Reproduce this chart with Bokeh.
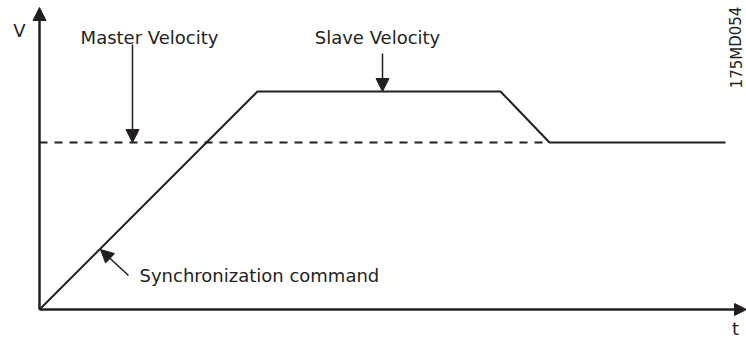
from bokeh.plotting import figure
from bokeh.models import Range1d, Arrow, NormalHead, ColumnDataSource
from bokeh.core.properties import value
from bokeh.embed import file_html
from bokeh.resources import INLINE

# ---- data (time / velocity in diagram units) ----
slave_t = [0, 218, 461, 510, 686]
slave_v = [0, 218, 218, 167, 167]
master_t = [0, 510]
master_v = [167, 167]

# axis extents
t_axis_end = 707
v_axis_end = 302

# annotation arrows (start -> end)
ann_t0 = [93, 343, 89]
ann_v0 = [265, 256, 34]
ann_t1 = [93, 343, 61]
ann_v1 = [167, 218, 60]

# labels
label_text = ["Master Velocity", "Slave Velocity"]
label_t = [110, 338]
label_v = [272, 272]
sync_label = "Synchronization command"
sync_t, sync_v = 100, 34
axis_v_label = "V"
axis_t_label = "t"
code_label = "175MD054"

INK = "#231f20"
FONT = value("DejaVu Sans")

p = figure(width=746, height=338, output_backend="svg", toolbar_location=None,
           x_range=Range1d(-39, 707), y_range=Range1d(-29, 309),
           x_axis_location=None, y_axis_location=None, min_border=0)
p.grid.visible = False
p.outline_line_color = None
p.background_fill_color = "white"
p.border_fill_color = "white"

# master velocity (dashed)
p.line(master_t, master_v, line_color=INK, line_width=2, line_dash="8 7")
# slave velocity
p.line(slave_t, slave_v, line_color=INK, line_width=2)

# axes with arrowheads
p.add_layout(Arrow(end=NormalHead(size=13, fill_color=INK, line_color=INK),
                   x_start=0, y_start=0, x_end=0, y_end=v_axis_end,
                   line_color=INK, line_width=2.5))
p.add_layout(Arrow(end=NormalHead(size=12, fill_color=INK, line_color=INK),
                   x_start=0, y_start=0, x_end=t_axis_end, y_end=0,
                   line_color=INK, line_width=2.5))

# annotation arrows
ann_src = ColumnDataSource(dict(x0=ann_t0, y0=ann_v0, x1=ann_t1, y1=ann_v1))
p.add_layout(Arrow(end=NormalHead(size=13, fill_color=INK, line_color=INK),
                   x_start="x0", y_start="y0", x_end="x1", y_end="y1",
                   source=ann_src, line_color=INK, line_width=1.5))

# labels
p.text(x=label_t, y=label_v, text=label_text, text_font=FONT, text_font_size="18px",
       text_color=INK, text_align="center", text_baseline="middle")
p.text(x=[sync_t], y=[sync_v], text=[sync_label], text_font=FONT, text_font_size="18px",
       text_color=INK, text_align="left", text_baseline="middle")
p.text(x=[-20], y=[279], text=[axis_v_label], text_font=FONT, text_font_size="18px",
       text_color=INK, text_align="center", text_baseline="middle")
p.text(x=[696], y=[-19], text=[axis_t_label], text_font=FONT, text_font_size="18px",
       text_color=INK, text_align="center", text_baseline="middle")
p.text(x=[697], y=[262], text=[code_label], text_font=FONT, text_font_size="15px",
       text_color=INK, text_align="center", text_baseline="middle", angle=1.5708)

open("out.html", "w").write(file_html(p, INLINE))
